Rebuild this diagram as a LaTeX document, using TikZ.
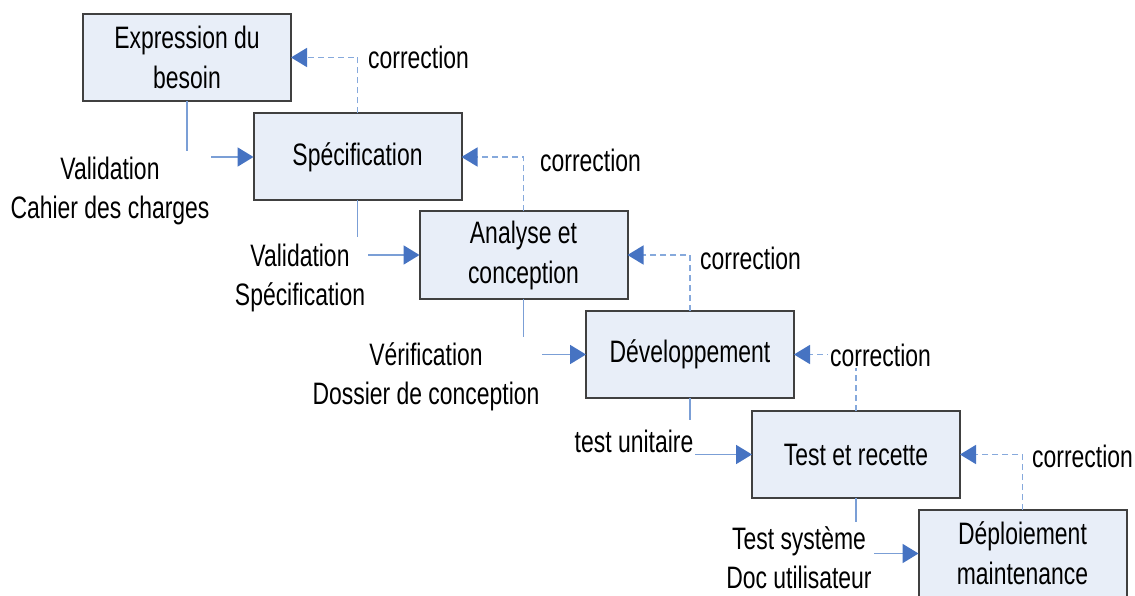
\documentclass[tikz,border=0pt]{standalone}
\usepackage{fontspec}
\setmainfont{Liberation Sans}
\usepackage{graphicx}
\usetikzlibrary{arrows.meta}
\newcommand{\sq}[1]{\scalebox{0.74}[1]{#1}}
\definecolor{boxfill}{HTML}{E8EEF8}
\definecolor{boxline}{HTML}{404040}
\definecolor{connblue}{HTML}{7B9FD6}
\definecolor{tipblue}{HTML}{4673C2}
\definecolor{dashblue}{HTML}{86A9DC}
\tikzset{
  phase/.style={draw=boxline, line width=2pt, fill=boxfill, minimum width=208pt, minimum height=87pt,
    inner sep=0pt, outer sep=0pt, align=center, font=\fontsize{31}{40}\selectfont},
  lbl/.style={align=center, inner sep=1pt, font=\fontsize{31}{39}\selectfont},
  corrlbl/.style={anchor=west, fill=white, inner sep=2pt, font=\fontsize{31}{40}\selectfont},
  conn/.style={draw=connblue, line width=1.9pt},
  flow/.style={conn, -{Triangle[length=16pt,width=19pt,color=tipblue]}},
  corr/.style={draw=dashblue, line width=1.6pt, dash pattern=on 6pt off 4pt,
    -{Triangle[length=16pt,width=19pt,color=tipblue]}}
}
\begin{document}
\begin{tikzpicture}[x=1pt,y=-1pt]
\useasboundingbox (0,0) rectangle (1135,596);
\clip (0,0) rectangle (1135,596);
\fill[white] (0,0) rectangle (1135,596);

% phases
\node[phase] (b1) at (187,57.5) {\sq{Expression du}\\\sq{besoin}};
\node[phase] (b2) at (357.5,157) {\sq{Spécification}};
\node[phase] (b3) at (523.5,255) {\sq{Analyse et}\\\sq{conception}};
\node[phase] (b4) at (690,354.5) {\sq{Développement}};
\node[phase] (b5) at (856,454.5) {\sq{Test et recette}};
\node[phase] (b6) at (1022.5,553.5) {\sq{Déploiement}\\\sq{maintenance}};

% free ends
\coordinate (v1) at (187,151);   \coordinate (a1) at (211,157);
\coordinate (v2) at (357.5,237); \coordinate (a2) at (368,255);
\coordinate (v3) at (523.5,337); \coordinate (a3) at (542,354.5);
\coordinate (v4) at (690,420);   \coordinate (a4) at (695,454.5);
\coordinate (v5) at (856,522);   \coordinate (a5) at (874,553.5);

% forward flow
\draw[conn] (b1.south) -- (v1);
\draw[flow] (a1) -- (b2.west);
\draw[conn] (b2.south) -- (v2);
\draw[flow] (a2) -- (b3.west);
\draw[conn] (b3.south) -- (v3);
\draw[flow] (a3) -- (b4.west);
\draw[conn] (b4.south) -- (v4);
\draw[flow] (a4) -- (b5.west);
\draw[conn] (b5.south) -- (v5);
\draw[flow] (a5) -- (b6.west);

% corrections
\draw[corr] (b2.north) |- (b1.east);
\draw[corr] (b3.north) |- (b2.east);
\draw[corr] (b4.north) |- (b3.east);
\draw[corr] (b5.north) |- (b4.east);
\draw[corr] (b6.north) |- (b5.east);

% labels
\node[lbl] (l1) at (110,191) {\sq{Validation}\\\sq{Cahier des charges}};
\node[lbl] (l2) at (300,278) {\sq{Validation}\\\sq{Spécification}};
\node[lbl] (l3) at (426,377) {\sq{Vérification}\\\sq{Dossier de conception}};
\node[lbl] (l4) at (634,441) {\sq{test unitaire}};
\node[lbl] (l5) at (799,558) {\sq{Test système}\\\sq{Doc utilisateur}};

\node[corrlbl] (c1) at (366,57) {\sq{correction}};
\node[corrlbl] (c2) at (538,160) {\sq{correction}};
\node[corrlbl] (c3) at (698,258) {\sq{correction}};
\node[corrlbl] (c4) at (828,355) {\sq{correction}};
\node[corrlbl] (c5) at (1030,456) {\sq{correction}};
\end{tikzpicture}
\end{document}
